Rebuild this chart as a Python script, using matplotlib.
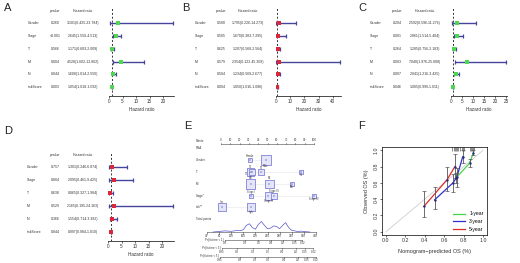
import numpy as np
import matplotlib
matplotlib.use("Agg")
import matplotlib.pyplot as plt
from matplotlib.transforms import blended_transform_factory

plt.rcParams['font.family'] = ['Liberation Sans', 'DejaVu Sans']

W, H = 520, 263

# forest plot data (A-D)
variables = ['Gender', 'Stage', 'T', 'M', 'N', 'riskScore']

a_p = ['0.260', '<0.001', '0.566', '0.004', '0.044', '0.003']
a_hr = [3.181, 2.645, 1.171, 4.528, 1.608, 1.054]
a_lo = [0.425, 1.550, 0.683, 1.602, 1.014, 1.018]
a_hi = [23.784, 4.513, 2.009, 12.802, 2.550, 1.092]

b_p = ['0.580', '0.505', '0.625', '0.579', '0.584', '0.004']
b_hr = [1.795, 1.670, 1.207, 2.354, 1.234, 1.050]
b_lo = [0.226, 0.383, 0.568, 0.122, 0.569, 1.016]
b_hi = [14.273, 7.295, 2.564, 45.308, 2.677, 1.086]

c_p = ['0.204', '0.001', '0.264', '0.003', '0.007', '0.046']
c_hr = [2.592, 2.861, 1.285, 7.040, 2.041, 1.005]
c_lo = [0.596, 1.514, 0.756, 1.976, 1.216, 0.999]
c_hi = [11.276, 5.404, 2.183, 25.088, 3.425, 1.011]

d_p = ['0.757', '0.804', '0.638', '0.529', '0.366', '0.844']
d_hr = [1.301, 2.095, 0.865, 2.165, 1.554, 0.997]
d_lo = [0.246, 0.461, 0.327, 0.195, 0.714, 0.984]
d_hi = [6.874, 9.425, 1.984, 24.163, 3.382, 1.010]

# nomogram data (E)
point_ticks = list(range(0, 101, 10))
nomo_rows = ['Gender', 'T', 'M*', 'Stage*', 'risk**']
nomo_levels = [['Female', 'Male'], ['T1', 'T2', 'T3', 'T4'], ['M0', 'M1', 'MX'],
               ['Stage I', 'Stage II', 'Stage III', 'Stage IV'], ['low', 'high']]
nomo_points = [[31, 48], [32, 33, 43, 86], [32, 52, 76], [32, 51, 57, 100], [1, 32]]
nomo_counts = [[15, 70], [40, 25, 30, 8], [60, 55, 12], [15, 45, 35, 12], [45, 45]]
total_ticks = list(range(40, 401, 40))
dens_total = list(range(60, 381, 10))
dens_value = [0, 0.02, 0.05, 0.08, 0.1, 0.08, 0.06, 0.1, 0.15, 0.12, 0.2, 0.6, 0.75,
              0.4, 0.25, 0.7, 0.95, 0.6, 0.3, 0.35, 0.55, 0.5, 0.3, 0.6, 0.85, 0.4,
              0.15, 0.1, 0.05, 0.08, 0.04, 0.02, 0]
pr_names = ['Pr( futime < 1 )', 'Pr( futime < 3 )', 'Pr( futime < 5 )']
pr_labels = [['0.9', '0.8', '0.6', '0.4', '0.2', '0.05', '0.02'],
             ['0.95', '0.9', '0.8', '0.6', '0.4', '0.2', '0.05', '0.02'],
             ['0.95', '0.9', '0.8', '0.6', '0.4', '0.2', '0.05', '0.02']]
pr_total = [[100, 165, 210, 250, 290, 330, 355],
            [90, 140, 192, 241, 288, 334, 364, 392],
            [83, 149, 198, 241, 294, 340, 370, 400]]

# calibration data (F)
cal_names = ['1-year', '3-year', '5-year']
cal_pred = [[0.72, 0.86, 0.90], [0.50, 0.69, 0.73, 0.79], [0.39, 0.63, 0.71]]
cal_obs = [[0.66, 0.84, 0.97], [0.39, 0.60, 0.67, 0.92], [0.31, 0.64, 0.80]]
cal_lo = [[0.60, 0.79, 0.94], [0.28, 0.49, 0.55, 0.84], [0.18, 0.50, 0.66]]
cal_hi = [[0.72, 0.89, 1.00], [0.55, 0.71, 0.78, 1.00], [0.50, 0.79, 0.95]]
rug_pred = [0.68, 0.70, 0.71, 0.72, 0.73, 0.74, 0.76, 0.78, 0.79, 0.80, 0.86, 0.88, 0.89, 0.90, 0.91]

fig = plt.figure(figsize=(W / 100, H / 100), dpi=100)
txt = '#333333'


def px_axes(l, t, r, b):
    return fig.add_axes([l / W, 1 - b / H, (r - l) / W, (b - t) / H])


def forest(box, cols, pvals, hr, lo, hi, color, xticks, fs=2.5):
    ax = px_axes(*box)
    n = len(variables)
    ys = np.arange(n, 0, -1)
    ax.hlines(ys, lo, hi, color='#45459e', lw=1.0, zorder=2)
    ax.plot(lo, ys, '|', color='#45459e', ms=3, mew=0.9, zorder=2)
    ax.plot(hi, ys, '|', color='#45459e', ms=3, mew=0.9, zorder=2)
    ax.scatter(hr, ys, marker='s', s=9, color=color, zorder=3, linewidths=0)
    ax.axvline(1, ls=(0, (2, 2)), color='#333333', lw=0.7, zorder=1)
    ax.set_xlim(0, max(hi) * 1.01)
    ax.set_ylim(0.3, 7.2)
    ax.set_yticks([])
    ax.set_xticks(xticks)
    for s in ['left', 'top', 'right']:
        ax.spines[s].set_visible(False)
    ax.spines['bottom'].set_linewidth(0.5)
    ax.tick_params(axis='x', labelsize=3.3, length=1.5, width=0.5, pad=0.8, colors=txt)
    ax.set_xlabel('Hazard ratio', fontsize=3.3, labelpad=1.8, color=txt)
    tr = blended_transform_factory(fig.transFigure, ax.transData)
    for y, name, p, h, l, u in zip(ys, variables, pvals, hr, lo, hi):
        ax.text(cols[0] / W, y, name, transform=tr, fontsize=fs, ha='left', va='center', color=txt)
        ax.text(cols[1] / W, y, p, transform=tr, fontsize=fs, ha='center', va='center', color=txt)
        ax.text(cols[2] / W, y, f'{h:.3f}({l:.3f}-{u:.3f})', transform=tr, fontsize=fs,
                ha='center', va='center', color=txt)
    ax.text(cols[1] / W, n + 1, 'pvalue', transform=tr, fontsize=fs, ha='center', va='center', color=txt)
    ax.text(cols[2] / W, n + 1, 'Hazard ratio', transform=tr, fontsize=fs, ha='center', va='center', color=txt)
    return ax


green = '#4fd84f'
red = '#d8283a'
forest((109, 8, 174, 96), (28, 55, 83), a_p, a_hr, a_lo, a_hi, green, [0, 5, 10, 15, 20])
forest((276, 8, 341, 96), (195, 221, 248), b_p, b_hr, b_lo, b_hi, red, [0, 10, 20, 30, 40])
forest((451, 8, 507, 96), (370, 397, 425), c_p, c_hr, c_lo, c_hi, green, [0, 5, 10, 15, 20, 25])
forest((108, 152, 174, 241), (27, 55, 83), d_p, d_hr, d_lo, d_hi, red, [0, 5, 10, 15, 20])

# ---- E: nomogram
ax = px_axes(190, 135, 325, 262)
ax.set_xlim((190 - 221) / 0.93, (325 - 221) / 0.93)
ax.set_ylim(262, 135)
ax.axis('off')
fs = 2.1
lx = (196 - 221) / 0.93
# where each level's label sits around its box: a=above, b=below, l=left
label_side = [['a', 'b'], ['a', 'l', 'a', 'b'], ['a', 'a', 'b'], ['a', 'b', 'a', 'b'], ['a', 'b']]


def tp(t):
    return -15 + (np.asarray(t, dtype=float) - 40) * 117 / 360


# points axis
ax.plot([0, 100], [144, 144], color='#444444', lw=0.4)
for t in point_ticks:
    ax.plot([t, t], [144, 142.5], color='#444444', lw=0.4)
    ax.text(t, 141.8, str(t), fontsize=fs, ha='center', va='bottom', color=txt)
ax.text(lx, 141, 'Points', fontsize=fs, ha='left', va='center', color=txt)
ax.text(lx, 148, 'RNA', fontsize=fs, ha='left', va='center', color=txt)

row_y = [160, 172, 184, 196, 207]
for y, name, levels, pts, cnt, sides in zip(row_y, nomo_rows, nomo_levels, nomo_points, nomo_counts, label_side):
    ax.text(lx, y, name, fontsize=fs, ha='left', va='center', color=txt)
    ax.plot([min(pts), max(pts)], [y, y], color='#cccccc', lw=0.4, ls=(0, (1, 1)), zorder=1)
    ax.scatter(pts, [y] * len(pts), marker='s', s=np.array(cnt) * 0.7, facecolor='#e4e6f7',
               edgecolor='#6b6bd6', linewidths=0.5, zorder=2)
    ax.scatter(pts, [y] * len(pts), marker='+', s=1, color='#6b6bd6', linewidths=0.3, zorder=3)
    for lev, p, c, sd in zip(levels, pts, cnt, sides):
        half = 0.69 * np.sqrt(c * 0.7)
        if sd == 'l':
            ax.text(p - half / 0.93 - 1.5, y + 1.5, lev, fontsize=1.8, ha='right', va='center', color=txt)
        else:
            off = (half + 1.3) * (-1 if sd == 'a' else 1)
            ax.text(p, y + off, lev, fontsize=1.8, ha='center', va='center', color=txt)

ax.text(lx, 219, 'Total points', fontsize=fs, ha='left', va='center', color=txt)
ax.plot(tp([total_ticks[0], total_ticks[-1]]), [232, 232], color='#444444', lw=0.4)
for t in total_ticks:
    ax.plot([tp(t)] * 2, [232, 233.5], color='#444444', lw=0.4)
    ax.text(tp(t), 233.8, str(t), fontsize=fs, ha='center', va='top', color=txt)
ax.plot(tp(dens_total), 232 - np.array(dens_value) * 11, color='#5555cc', lw=0.5)

for y, name, labs, tot in zip([239.5, 248, 256.5], pr_names, pr_labels, pr_total):
    xs = tp(tot)
    ax.plot([xs[0], xs[-1]], [y, y], color='#444444', lw=0.4)
    for xv, lab in zip(xs, labs):
        ax.plot([xv, xv], [y, y + 1.3], color='#444444', lw=0.4)
        ax.text(xv, y + 1.6, lab, fontsize=fs, ha='center', va='top', color=txt)
    ax.text(xs[0] - 1.5, y, name, fontsize=fs, ha='right', va='center', color=txt)

# ---- F: calibration
ax = px_axes(382, 147, 487, 235)
ax.plot([0, 1], [0, 1], color='#cfcfcf', lw=0.6, zorder=1)
cols = ['#44d444', '#2f2fd0', '#dd2c2c']
for name, xs, ys, lo, hi, c in zip(cal_names, cal_pred, cal_obs, cal_lo, cal_hi, cols):
    ax.plot(xs, ys, color=c, lw=0.9, label=name, zorder=2)
    ax.errorbar(xs, ys, yerr=[np.array(ys) - np.array(lo), np.array(hi) - np.array(ys)], fmt='none',
                ecolor='#555555', elinewidth=0.6, capsize=1.2, capthick=0.5, zorder=3)
    ax.scatter(xs, ys, s=3, color='#2a2a80', zorder=4, linewidths=0)
ax.plot(rug_pred, [1.02] * len(rug_pred), '|', color='#333333', ms=2.5, mew=0.4, clip_on=False)
ax.set_xlim(-0.04, 1.04)
ax.set_ylim(-0.04, 1.04)
ticks = [0.0, 0.2, 0.4, 0.6, 0.8, 1.0]
ax.set_xticks(ticks)
ax.set_yticks(ticks)
ax.set_xticklabels([f'{t:.1f}' for t in ticks])
ax.set_yticklabels([f'{t:.1f}' for t in ticks], rotation=90, va='center')
ax.tick_params(labelsize=3.8, length=1.5, width=0.5, pad=1, colors=txt)
for s in ax.spines.values():
    s.set_linewidth(0.5)
ax.set_xlabel('Nomogram\u2212predicted OS (%)', fontsize=4, labelpad=4, color=txt)
ax.set_ylabel('Observed OS (%)', fontsize=4, labelpad=3, color=txt)
ax.legend(loc='lower right', fontsize=3.6, frameon=False, handlelength=2.5, borderaxespad=0.3,
          labelspacing=0.5)

# panel letters
for lab, x, y in [('A', 4, 8), ('B', 182, 8), ('C', 358, 8), ('D', 4, 131), ('E', 184, 126), ('F', 358, 126)]:
    fig.text(x / W, 1 - y / H, lab, fontsize=8, ha='left', va='center', color='#222222')

fig.savefig('out.png', dpi=100)
